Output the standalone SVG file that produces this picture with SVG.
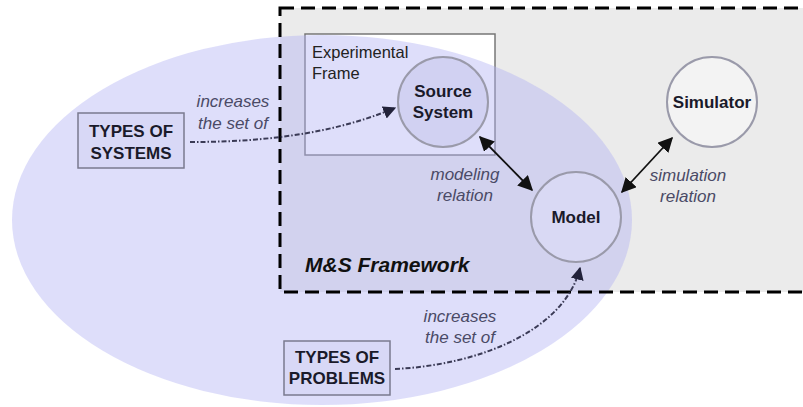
<svg xmlns="http://www.w3.org/2000/svg" width="803" height="407" viewBox="0 0 803 407">
<defs>
<style>
.node{stroke:#9a9aaa;stroke-width:2}
.bold{font-family:"Liberation Sans",Arial,sans-serif;font-weight:bold;font-size:17px;fill:#1a1a2a;text-anchor:middle}
.it{font-family:"Liberation Sans",Arial,sans-serif;font-style:italic;font-size:17px;fill:#4a4a66;text-anchor:middle}
.box{fill:#d8d8f6;stroke:#7a7a8e;stroke-width:1.5}
.dd{fill:none;stroke:#3a3a55;stroke-width:2;stroke-dasharray:5,2,1.5,2}
.rel{fill:none;stroke:#111;stroke-width:1.8}
</style>
<marker id="ah2" viewBox="0 0 10 10" refX="9" refY="5" markerWidth="13" markerHeight="13" orient="auto" markerUnits="userSpaceOnUse">
<path d="M0,0 L10,5 L0,10 z" fill="#22223a"/>
</marker>
<marker id="ahr" viewBox="0 0 10 10" refX="9" refY="5" markerWidth="15" markerHeight="15" orient="auto-start-reverse" markerUnits="userSpaceOnUse">
<path d="M0,0 L10,5 L0,10 z" fill="#111"/>
</marker>
</defs>
<rect width="803" height="407" fill="#ffffff"/>
<g id="framework-bg">
<rect x="280" y="8" width="560" height="284" fill="#ebebeb"/>
</g>
<g id="experimental-frame">
<rect x="305" y="34" width="190" height="121" fill="#ffffff" stroke="#777" stroke-width="1.5"/>
</g>
<g id="domain-ellipse">
<ellipse cx="322" cy="220" rx="310" ry="185" fill="#b0b0f2" fill-opacity="0.42"/>
</g>
<g id="framework-border">
<rect x="280" y="8" width="560" height="284" fill="none" stroke="#000" stroke-width="3" stroke-dasharray="14,7"/>
<text x="305" y="272" font-family="'Liberation Sans',Arial,sans-serif" font-weight="bold" font-style="italic" font-size="21" fill="#111">M&amp;S Framework</text>
</g>
<g id="frame-label">
<text x="312" y="58" font-family="'Liberation Sans',Arial,sans-serif" font-size="16.5" fill="#222">Experimental</text>
<text x="312" y="79" font-family="'Liberation Sans',Arial,sans-serif" font-size="16.5" fill="#222">Frame</text>
</g>
<g id="source-system">
<circle cx="443" cy="102" r="45" class="node" fill="#c8c8ec" fill-opacity="0.6"/>
<text x="443" y="97" class="bold">Source</text>
<text x="443" y="118" class="bold">System</text>
</g>
<g id="simulator">
<circle cx="712" cy="102" r="45" class="node" fill="#f3f3f3"/>
<text x="712" y="108" class="bold">Simulator</text>
</g>
<g id="model">
<circle cx="576" cy="217" r="45" class="node" fill="#dcdcf6" fill-opacity="0.7"/>
<text x="576" y="223" class="bold">Model</text>
</g>
<g id="types-of-systems">
<rect x="78" y="113" width="106" height="55" class="box"/>
<text x="131" y="137" class="bold">TYPES OF</text>
<text x="131" y="159" class="bold">SYSTEMS</text>
</g>
<g id="types-of-problems">
<rect x="284" y="341" width="106" height="54" class="box"/>
<text x="337" y="363" class="bold">TYPES OF</text>
<text x="337" y="384" class="bold">PROBLEMS</text>
</g>
<g id="connectors">
<line x1="480" y1="137" x2="532" y2="190" class="rel" marker-start="url(#ahr)" marker-end="url(#ahr)"/>
<line x1="672" y1="138" x2="622" y2="192" class="rel" marker-start="url(#ahr)" marker-end="url(#ahr)"/>
<path d="M190,142 C260,142 330,135 395,108" class="dd" marker-end="url(#ah2)"/>
<path d="M395,369 C480,365 565,330 580,268" class="dd" marker-end="url(#ah2)"/>
</g>
<g id="labels">
<text x="465" y="180" class="it">modeling</text>
<text x="465" y="201" class="it">relation</text>
<text x="688" y="181" class="it">simulation</text>
<text x="688" y="202" class="it">relation</text>
<text x="233" y="107" class="it">increases</text>
<text x="233" y="129" class="it">the set of</text>
<text x="460" y="322" class="it">increases</text>
<text x="460" y="343" class="it">the set of</text>
</g>
</svg>
